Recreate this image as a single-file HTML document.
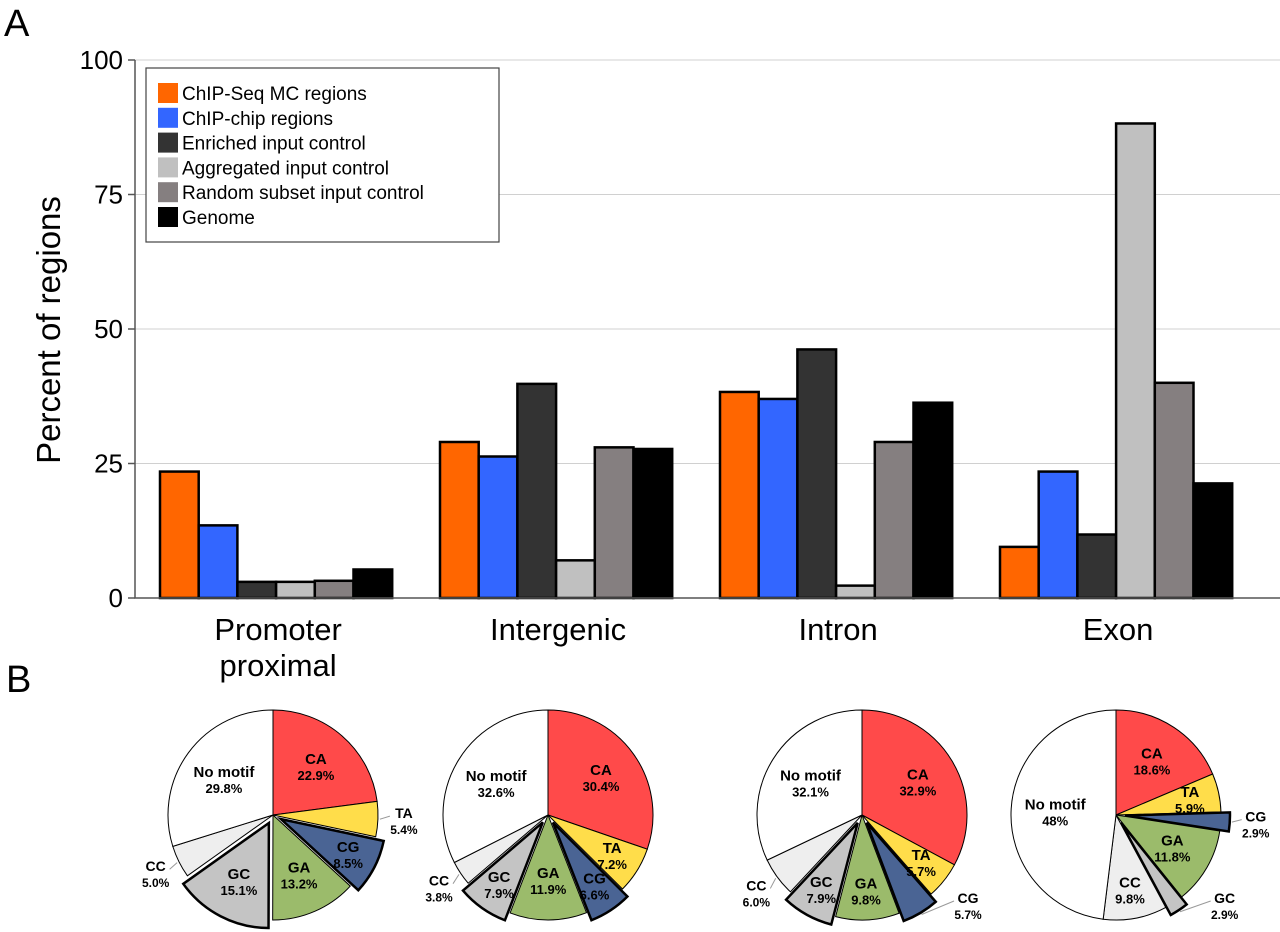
<!DOCTYPE html>
<html><head><meta charset="utf-8"><style>
html,body{margin:0;padding:0;background:#fff;width:1280px;height:932px;overflow:hidden}
svg{display:block;font-family:"Liberation Sans",Arial,sans-serif}
</style></head><body>
<svg id="fig" width="1280" height="932" viewBox="0 0 1280 932">
<text x="4" y="36" font-size="38">A</text>
<text x="6" y="692" font-size="38">B</text>
<g id="bars"></g>
<g id="pies"></g>
</svg>
<script>
const categories=["Promoter|proximal","Intergenic","Intron","Exon"];
const seriesNames=["ChIP-Seq MC regions","ChIP-chip regions","Enriched input control","Aggregated input control","Random subset input control","Genome"];
const seriesColors=["#ff6600","#3366ff","#333333","#c0c0c0","#857f80","#000000"];
const chipSeq=[23.5,29,38.3,9.5];
const chipChip=[13.5,26.3,37,23.5];
const enriched=[3,39.8,46.2,11.8];
const aggregated=[3,7,2.3,88.2];
const randomSubset=[3.2,28,29,40];
const genome=[5.3,27.7,36.3,21.3];
const yTicks=[0,25,50,75,100];
const pieNames=["promoter","intergenic","intron","exon"];
const sliceLabels=["CA","TA","CG","GA","GC","CC","No motif"];
const sliceColors=["#ff4a4a","#ffdd4a","#4a6494","#9bbb6b","#c4c4c4","#eeeeee","#ffffff"];
const pieProm=[22.9,5.4,8.5,13.2,15.1,5.0,29.8];
const pieInter=[30.4,7.2,6.6,11.9,7.9,3.8,32.6];
const pieIntron=[32.9,5.7,5.7,9.8,7.9,6.0,32.1];
const pieExon=[18.6,5.9,2.9,11.8,2.9,9.8,48];
const pieText=[["22.9%","5.4%","8.5%","13.2%","15.1%","5.0%","29.8%"],["30.4%","7.2%","6.6%","11.9%","7.9%","3.8%","32.6%"],["32.9%","5.7%","5.7%","9.8%","7.9%","6.0%","32.1%"],["18.6%","5.9%","2.9%","11.8%","2.9%","9.8%","48%"]];
const exploded=["CG","GC"];

const NS="http://www.w3.org/2000/svg";
function mk(t,a,p){const e=document.createElementNS(NS,t);for(const k in a)e.setAttribute(k,a[k]);p.appendChild(e);return e;}
const bars=document.getElementById('bars');
const X0=135,X1=1280,Y0=598,Y100=60;
const y=v=>Y0-(v-0)*(Y0-Y100)/100;
const groupW=280;
const barW=38.7;
const firstBar=160;
const xBar=(g,s)=>firstBar+groupW*g+s*barW;
yTicks.forEach(t=>{
  if(t>0){const l=mk('line',{x1:X0,x2:X1,y1:y(t),y2:y(t),stroke:'#d0d0d0','stroke-width':1},bars);
  
  }
  const tk=mk('line',{x1:X0-7,x2:X0,y1:y(t),y2:y(t),stroke:'#555','stroke-width':1.5},bars);
  
  
  const tx=mk('text',{x:X0-12,y:y(t)+9,'font-size':26,'text-anchor':'end'},bars);
  tx.textContent=t;
  
  
});
const yt=mk('text',{transform:'translate(60,330) rotate(-90)','font-size':33,'text-anchor':'middle'},bars);
yt.textContent='Percent of regions';


const seriesData=[chipSeq,chipChip,enriched,aggregated,randomSubset,genome];
categories.forEach((c,g)=>{
  seriesData.forEach((arr,s)=>{
    const r=mk('rect',{x:xBar(g,s),y:y(arr[g]),width:barW,height:Y0-y(arr[g]),fill:seriesColors[s],stroke:'#000','stroke-width':2.5},bars);
    
    
  });
  const cx=xBar(g,0)+3*barW+2;
  c.split('|').forEach((ln,i)=>{
    const t=mk('text',{x:cx,y:640+i*36,'font-size':31,'text-anchor':'middle'},bars);
    t.textContent=ln;
    
    
  });
});
const ax=mk('path',{d:`M${X0},${Y100} V${Y0} H${X1}`,fill:'none',stroke:'#555','stroke-width':1.5},bars);


const lg=mk('g',{},bars);


mk('rect',{x:146,y:68,width:353,height:174,fill:'#fff',stroke:'#444','stroke-width':1.2},lg);
seriesNames.forEach((n,i)=>{
  const cy=93+i*24.8;
  const sw=mk('rect',{x:158,y:cy-10,width:20,height:20,fill:seriesColors[i]},lg);
  
  
  const t=mk('text',{x:182,y:cy+7,'font-size':19},lg);
  t.textContent=n;
  
  
});
const pies=document.getElementById('pies');
const pieData=[pieProm,pieInter,pieIntron,pieExon];
const pieCX=[273,548,862,1116],pieCY=815,R=105;
pieData.forEach((d,p)=>{
  const g=mk('g',{},pies);
  
  
  const tot=d.reduce((a,b)=>a+b,0);
  let a0=0;
  const labels=[];
  d.forEach((v,i)=>{
    const a1=a0+v/tot*2*Math.PI, am=(a0+a1)/2;
    const ex=exploded.includes(sliceLabels[i])?9:0;
    const cx=pieCX[p]+ex*Math.sin(am), cy=pieCY-ex*Math.cos(am);
    const P=a=>[cx+R*Math.sin(a),cy-R*Math.cos(a)];
    const s=P(a0),e=P(a1);
    const path=mk('path',{d:`M${cx},${cy} L${s[0]},${s[1]} A${R},${R} 0 ${a1-a0>Math.PI?1:0} 1 ${e[0]},${e[1]} Z`,fill:sliceColors[i],stroke:'#000','stroke-width':ex?2.5:1},g);
    
    
    const out=v<5.5||(v<6.5&&sliceLabels[i]!=='TA');
    const rr=out?R+26:(sliceLabels[i]==='No motif'?R*0.58:(v<10?R*0.72:R*0.62));
    let lx=cx+rr*Math.sin(am), ly=cy-rr*Math.cos(am);
    if(out&&ly>905){lx+=(Math.sin(am)>0?1:-1)*(ly-905)*0.8+ (Math.sin(am)>0?10:-10);ly=905;}
    labels.push({x:lx,y:ly,i,out,am,cx,cy});
    a0=a1;
  });
  labels.forEach(L=>{
    if(L.out){
      const l=mk('line',{x1:L.cx+(R+2)*Math.sin(L.am),y1:L.cy-(R+2)*Math.cos(L.am),x2:L.x-(Math.sin(L.am)>0?14:-14),y2:L.y-4,stroke:'#999'},g);
      
      
    }
    const t=mk('text',{x:L.x,y:L.y-2,'font-size':L.out?14:15,'font-weight':'bold','text-anchor':'middle'},g);
    t.textContent=sliceLabels[L.i];
    
    
    const t2=mk('text',{x:L.x,y:L.y+14,'font-size':L.out?12:13,'font-weight':'bold','text-anchor':'middle'},g);
    t2.textContent=pieText[p][L.i];
    
    
  });
});
</script>
</body></html>
